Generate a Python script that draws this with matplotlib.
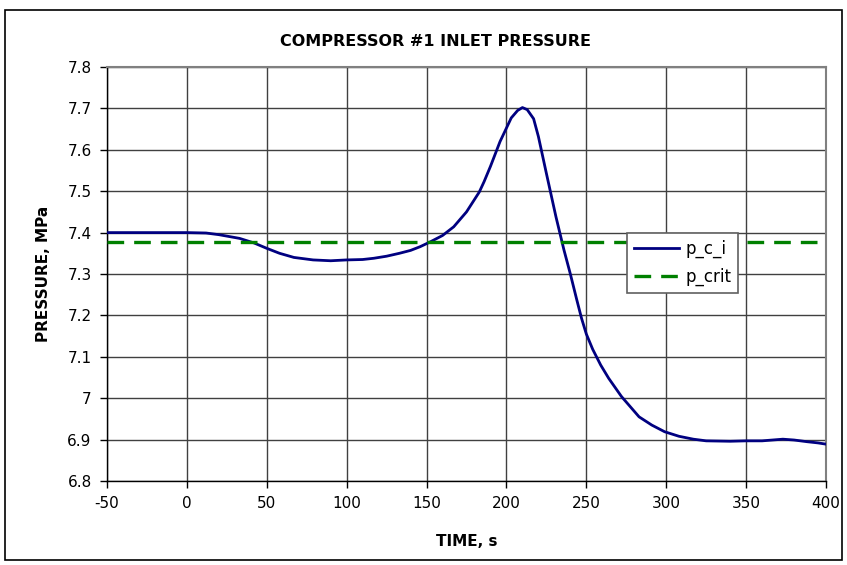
import matplotlib
matplotlib.use("Agg")
import matplotlib.pyplot as plt
from matplotlib.patches import Rectangle

# Compressor inlet pressure history
time_s = [-50, 0, 12, 20, 33, 42, 50, 58, 67, 79, 90, 100, 110, 117, 125, 133,
          140, 146, 152, 160, 167, 175, 183, 186, 190, 196, 203, 207, 210, 213,
          217, 220, 225, 231, 236, 240, 244, 247, 250, 254, 259, 264, 272, 283,
          291, 299, 308, 317, 325, 340, 350, 360, 373, 380, 388, 395, 400]
p_c_i = [7.400, 7.400, 7.399, 7.395, 7.386, 7.375, 7.362, 7.350, 7.340, 7.334,
         7.332, 7.334, 7.335, 7.338, 7.343, 7.350, 7.357, 7.366, 7.377, 7.393,
         7.414, 7.450, 7.498, 7.523, 7.560, 7.620, 7.677, 7.695, 7.702, 7.697,
         7.675, 7.632, 7.543, 7.438, 7.358, 7.300, 7.238, 7.193, 7.155, 7.118,
         7.080, 7.048, 7.004, 6.955, 6.935, 6.919, 6.908, 6.901, 6.897, 6.896,
         6.897, 6.897, 6.901, 6.899, 6.895, 6.892, 6.889]
p_crit = 7.377

x_ticks = [-50, 0, 50, 100, 150, 200, 250, 300, 350, 400]
y_ticks = [6.8, 6.9, 7.0, 7.1, 7.2, 7.3, 7.4, 7.5, 7.6, 7.7, 7.8]
y_tick_labels = ["6.8", "6.9", "7", "7.1", "7.2", "7.3", "7.4", "7.5", "7.6", "7.7", "7.8"]

plt.rcParams['font.family'] = ['DejaVu Sans']

W, H = 847, 565
fig = plt.figure(figsize=(W / 100, H / 100), dpi=100)
fig.patch.set_facecolor("white")

# outer chart border
fig.patches.append(Rectangle((5 / W, 1 - 560 / H), (842 - 5) / W, (560 - 10) / H,
                             transform=fig.transFigure, fill=False,
                             edgecolor="black", linewidth=1.2))

ax = fig.add_axes([107 / W, 1 - 481 / H, (826 - 107) / W, (481 - 67) / H])

ax.plot(time_s, p_c_i, color="#000080", linewidth=2.0, label="p_c_i", zorder=3)
ax.axhline(p_crit, color="#008000", linewidth=2.4, linestyle=(0, (5, 3)),
           label="p_crit", zorder=3)

ax.set_xlim(-50, 400)
ax.set_ylim(6.8, 7.8)
ax.set_xticks(x_ticks)
ax.set_xticklabels([str(v) for v in x_ticks])
ax.set_yticks(y_ticks)
ax.set_yticklabels(y_tick_labels)

ax.grid(True, color="#404040", linewidth=1.0)
ax.set_axisbelow(True)
ax.tick_params(axis="both", direction="out", length=5, width=1, color="black",
               labelsize=11, pad=6)

for side in ["left", "bottom"]:
    ax.spines[side].set_color("black")
    ax.spines[side].set_linewidth(1.0)
for side in ["top", "right"]:
    ax.spines[side].set_color("#808080")
    ax.spines[side].set_linewidth(1.5)

ax.set_xlabel("TIME, s", fontsize=11, fontweight="bold", labelpad=16)
ax.set_ylabel("PRESSURE, MPa", fontsize=11, fontweight="bold", labelpad=12)

fig.text(435 / W, 1 - 42 / H, "COMPRESSOR #1 INLET PRESSURE", ha="center",
         va="center", fontsize=11.5, fontweight="bold")

leg = ax.legend(loc="upper left", bbox_to_anchor=((627 - 107) / 719, (481 - 233) / 414),
                frameon=True, fancybox=False, edgecolor="#606060", framealpha=1,
                fontsize=12, handlelength=2.7, borderpad=0.4, labelspacing=0.6,
                handletextpad=0.4, borderaxespad=0)
leg.get_frame().set_linewidth(1.2)

fig.savefig("out.png", dpi=100, facecolor="white")
